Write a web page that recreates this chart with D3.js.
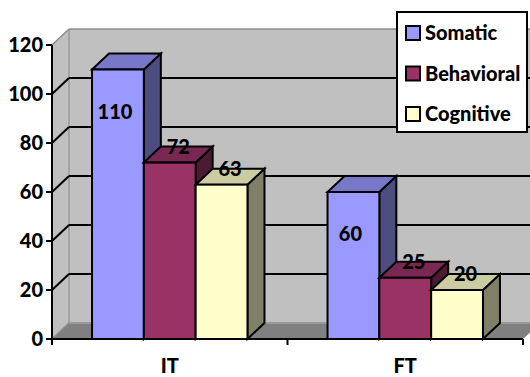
<!DOCTYPE html>
<html>
<head>
<meta charset="utf-8">
<script src="https://cdn.jsdelivr.net/npm/d3@7"></script>
<style>
  html, body { margin: 0; padding: 0; background: #fff; }
  svg { display: block; font-family: Lato, "Open Sans", sans-serif; font-weight: 900; }
</style>
</head>
<body>
<svg id="chart" width="530" height="377"></svg>
<script>
// Symptom counts by group
const categories = ["IT", "FT"];
const seriesNames = ["Somatic", "Behavioral", "Cognitive"];
const somatic = [110, 60];
const behavioral = [72, 25];
const cognitive = [63, 20];
const yTicks = [0, 20, 40, 60, 80, 100, 120];

const seriesValues = [somatic, behavioral, cognitive];
const palette = {
  Somatic:    { front: "#9999FF", top: "#7878C8", side: "#4D4D80" },
  Behavioral: { front: "#993366", top: "#792851", side: "#4D1A33" },
  Cognitive:  { front: "#FFFFCC", top: "#CCCCA3", side: "#808068" }
};

const svg = d3.select("#chart");

// Front plane of the 3-D box and the offset to its back plane
const left = 52, right = 523, base = 339, topY = 45;
const DX = 17, DY = -16;

const y = d3.scaleLinear().domain([0, 120]).range([base, topY]);
const x0 = d3.scaleBand().domain(categories).range([left, right])
  .paddingInner(0.34).paddingOuter(0.17);
const x1 = d3.scaleBand().domain(seriesNames).range([0, x0.bandwidth()]);

const pts = a => a.map(p => p.join(",")).join(" ");

// Walls and floor
const wall = svg.append("g");
wall.append("polygon")
  .attr("points", pts([[left + DX, y(120) + DY], [560, y(120) + DY], [560, base + DY], [left + DX, base + DY]]))
  .attr("fill", "#C0C0C0");
wall.append("polygon")
  .attr("points", pts([[left, y(120)], [left + DX, y(120) + DY], [left + DX, base + DY], [left, base]]))
  .attr("fill", "#C0C0C0");
wall.append("polygon")
  .attr("points", pts([[left, base], [left + DX, base + DY], [right + DX, base + DY], [right, base]]))
  .attr("fill", "#808080");
wall.append("line")
  .attr("x1", left + DX).attr("x2", right + DX)
  .attr("y1", base + DY).attr("y2", base + DY)
  .attr("stroke", "#9a9a9a").attr("stroke-width", 2);
wall.append("line")
  .attr("x1", left + DX).attr("x2", left + DX)
  .attr("y1", y(120) + DY).attr("y2", base + DY)
  .attr("stroke", "#9a9a9a").attr("stroke-width", 1.5);

// Gridlines: slanted across the side wall, then flat along the back wall
yTicks.forEach(t => {
  const edge = (t === 0 || t === 120);
  const col = edge ? "#8c8c8c" : "#000";
  const g = wall.append("g").attr("stroke", col).attr("stroke-width", edge ? 1.5 : 2).attr("fill", "none");
  g.append("line").attr("x1", left).attr("y1", y(t)).attr("x2", left + DX).attr("y2", y(t) + DY);
  if (t !== 0) {
    g.append("line").attr("x1", left + DX).attr("y1", y(t) + DY).attr("x2", 560).attr("y2", y(t) + DY);
  }
});

// Bars drawn left to right so each covers its neighbour's side face
const bars = svg.append("g").attr("stroke", "#000").attr("stroke-width", 2).attr("stroke-linejoin", "miter");
categories.forEach((c, ci) => {
  seriesNames.forEach((s, si) => {
    const v = seriesValues[si][ci];
    const xl = x0(c) + x1(s), xr = xl + x1.bandwidth();
    const yt = y(v), yb = y(0);
    const col = palette[s];
    const g = bars.append("g");
    g.append("polygon").attr("fill", col.side)
      .attr("points", pts([[xr, yb], [xr, yt], [xr + DX, yt + DY], [xr + DX, yb + DY]]));
    g.append("polygon").attr("fill", col.top)
      .attr("points", pts([[xl, yt], [xl + DX, yt + DY], [xr + DX, yt + DY], [xr, yt]]));
    g.append("rect").attr("fill", col.front)
      .attr("x", xl).attr("y", yt).attr("width", xr - xl).attr("height", yb - yt);
  });
});

// Axes
const axes = svg.append("g").attr("stroke", "#000").attr("stroke-width", 2);
axes.append("line").attr("x1", left).attr("x2", left).attr("y1", y(120)).attr("y2", base + 1);
axes.append("line").attr("x1", left - 1).attr("x2", right).attr("y1", base).attr("y2", base);
yTicks.forEach(t => {
  axes.append("line").attr("x1", left - 6).attr("x2", left).attr("y1", y(t)).attr("y2", y(t));
});
const xEdges = [left, ...categories.slice(1).map(c => x0(c) - x0.step() * x0.paddingInner() / 2), right];
xEdges.forEach(xe => {
  axes.append("line").attr("x1", xe).attr("x2", xe).attr("y1", base).attr("y2", base + 6);
});

svg.append("g").selectAll("text").data(yTicks).join("text")
  .attr("x", left - 9).attr("y", d => y(d)).attr("dy", "0.36em")
  .attr("text-anchor", "end").attr("font-size", 20).attr("fill", "#000")
  .text(d => d);

svg.append("g").selectAll("text").data(categories).join("text")
  .attr("x", d => x0(d) + x0.bandwidth() / 2).attr("y", 366).attr("dy", "0.36em")
  .attr("text-anchor", "middle").attr("font-size", 20).attr("fill", "#000")
  .text(d => d);

// Value labels: tall first-series bars carry theirs inside, others sit on the top face
const labels = svg.append("g").attr("font-size", 20).attr("fill", "#000").attr("text-anchor", "middle");
categories.forEach((c, ci) => {
  seriesNames.forEach((s, si) => {
    const v = seriesValues[si][ci];
    const xc = x0(c) + x1(s) + x1.bandwidth() / 2;
    if (si === 0) {
      labels.append("text").attr("x", xc - 3).attr("y", y(v) + 42).attr("dy", "0.36em").text(v);
    } else {
      labels.append("text").attr("x", xc + DX / 2).attr("y", y(v) + DY).attr("dy", "0.36em").text(v);
    }
  });
});

// Legend
const lg = svg.append("g");
lg.append("rect").attr("x", 397).attr("y", 12).attr("width", 130).attr("height", 120)
  .attr("fill", "#fff").attr("stroke", "#000").attr("stroke-width", 2);
seriesNames.forEach((s, i) => {
  const cy = 33 + i * 40.5;
  lg.append("rect").attr("x", 406).attr("y", cy - 7).attr("width", 14).attr("height", 14)
    .attr("fill", palette[s].front).attr("stroke", "#000").attr("stroke-width", 2);
  lg.append("text").attr("x", 425).attr("y", cy).attr("dy", "0.36em")
    .attr("font-size", 20).attr("fill", "#000").text(s);
});
</script>
</body>
</html>
